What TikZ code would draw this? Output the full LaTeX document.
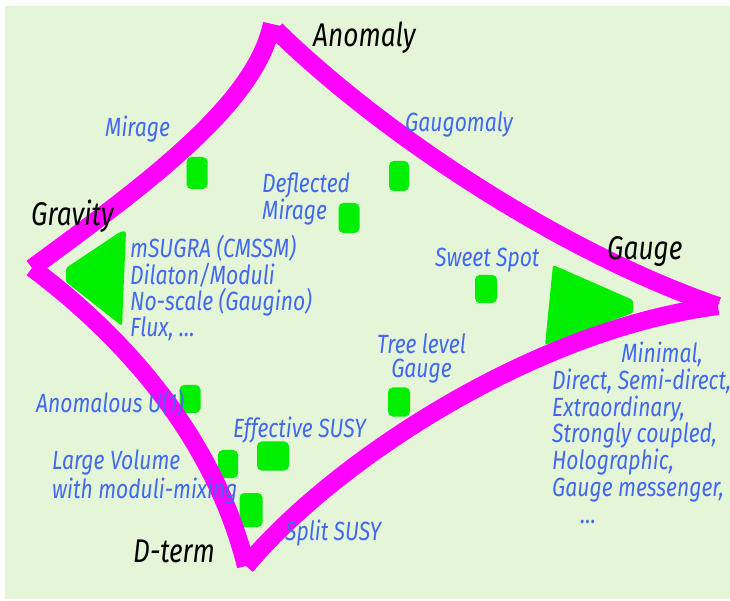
\documentclass[tikz,border=0pt]{standalone}
\usepackage{fontspec}
\setmainfont{Fira Sans}[FakeStretch=0.8]
\usepackage{tikz}
\usetikzlibrary{calc}
\usepackage{xcolor}
\definecolor{bgc}{RGB}{229,246,216}
\definecolor{edgec}{RGB}{255,0,255}
\definecolor{spotc}{RGB}{0,238,0}
\definecolor{modelc}{RGB}{64,104,240}
\tikzset{
  corner/.style={font=\fontsize{28}{32}\selectfont\itshape,text=black,inner sep=0pt,anchor=base west},
  model/.style={font=\fontsize{22.5}{22.5}\selectfont\itshape,text=modelc,inner sep=0pt,anchor=base west,align=left},
  spot/.style={fill=spotc,rounded corners=4pt,inner sep=0pt},
  edge/.style={draw=edgec,line width=15.5pt},
}

\begin{document}
\begin{tikzpicture}[x=0.03cm,y=-0.03cm]
  \useasboundingbox (0,0) rectangle (730,601);
  \fill[bgc] (5,6) rectangle (730,599);
  % corners of the region
  \coordinate (top) at (272,24); \coordinate (lft) at (32,268);
  \coordinate (rgt) at (718,306); \coordinate (bot) at (246,566);
  % shaded areas
  \fill[spotc,rounded corners=2pt] (66,268)--(120,232)--(126,231)--(122,326)--(66,282)--cycle;
  \fill[spotc,rounded corners=2pt] (553,265)--(633,300)--(633,313)--(545,345)--cycle;
  \node[spot,minimum width=6.3mm,minimum height=9.6mm](mir) at (197,173){};
  \node[spot,minimum width=6mm,minimum height=9mm](gom) at (399,176){};
  \node[spot,minimum width=6.3mm,minimum height=9mm](dmir) at (349,218){};
  \node[spot,minimum width=6.6mm,minimum height=8.4mm](swt) at (486,289){};
  \node[spot,minimum width=6.6mm,minimum height=8.7mm](tree) at (399,402){};
  \node[spot,minimum width=6.3mm,minimum height=8.4mm](uone) at (190,399){};
  \node[spot,minimum width=6mm,minimum height=8.4mm](lvs) at (228,464){};
  \node[spot,minimum width=9.6mm,minimum height=8.7mm](eff) at (273,456){};
  \node[spot,minimum width=6.9mm,minimum height=10.2mm](split) at (251,510){};
  % edges
  \draw[edge] (top) .. controls (255,105) and (145,185) .. (lft);
  \draw[edge] ($(top)+(4,6)$) .. controls (380,132) and (560,252) .. (rgt);
  \draw[edge] (lft) .. controls (115,330) and (212,430) .. (bot);
  \draw[edge] (bot) .. controls (330,465) and (530,330) .. (rgt);
  % labels
  \node[corner](anom) at (313,47){Anomaly};
  \node[corner](grav) at (31,226){Gravity};
  \node[corner](gauge) at (607,260){Gauge};
  \node[corner](dterm) at (133,562){D-term};
  \node[model](lmir) at (105,137){Mirage};
  \node[model](lgom) at (405,132){Gaugomaly};
  \node[model,font=\fontsize{22.5}{21.3}\selectfont\itshape](ldmir) at (262,220){Deflected\\Mirage};
  \node[model](lsugra) at (130,337){mSUGRA (CMSSM)\\Dilaton/Moduli\\No-scale (Gaugino)\\Flux, \dots};
  \node[model](lswt) at (435,267){Sweet Spot};
  \node[model,align=center,font=\fontsize{22.5}{21.3}\selectfont\itshape](ltree) at (377,378){Tree level\\Gauge};
  \node[model](luone) at (36,412){Anomalous U(1)};
  \node[model](leff) at (233,437){Effective SUSY};
  \node[model,font=\fontsize{22.5}{23.9}\selectfont\itshape](llvs) at (52,498){Large Volume\\with moduli-mixing};
  \node[model](lsplit) at (285,540){Split SUSY};
  \node[model,font=\fontsize{22.5}{22.8}\selectfont\itshape](lgmsb) at (552,523){\hspace*{59pt}Minimal,\\Direct, Semi-direct,\\Extraordinary,\\Strongly coupled,\\Holographic,\\Gauge messenger,\\\hspace*{24pt}\dots};
\end{tikzpicture}
\end{document}
